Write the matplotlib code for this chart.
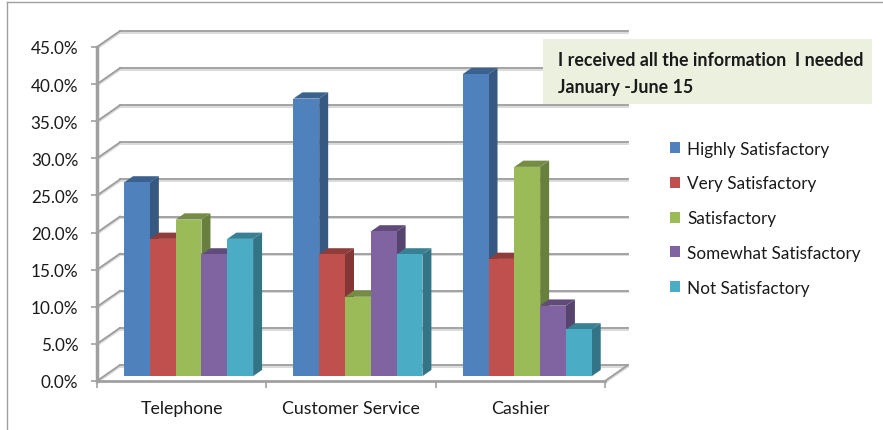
import numpy as np
import matplotlib
matplotlib.use('Agg')
import matplotlib.pyplot as plt
from matplotlib.patches import Polygon, Patch, Rectangle
from matplotlib.lines import Line2D
import matplotlib.patheffects as pe
import matplotlib.colors as mcolors

plt.rcParams['font.family'] = ['Lato', 'DejaVu Sans']

categories = ['Telephone', 'Customer Service', 'Cashier']
series_names = ['Highly Satisfactory', 'Very Satisfactory', 'Satisfactory',
                'Somewhat Satisfactory', 'Not Satisfactory']
highly = [26.1, 37.4, 40.7]
very = [18.5, 16.4, 15.8]
satisfactory = [21.1, 10.7, 28.2]
somewhat = [16.4, 19.5, 9.5]
not_satisfactory = [18.5, 16.4, 6.3]
y_ticks = [0, 5, 10, 15, 20, 25, 30, 35, 40, 45]
title_lines = ['I received all the information  I needed', 'January -June 15']

colors = ['#4F81BD', '#C0504D', '#9BBB59', '#8064A2', '#4BACC6']
all_series = [highly, very, satisfactory, somewhat, not_satisfactory]

W, H = 883, 431
fig = plt.figure(figsize=(W / 100, H / 100), dpi=100)

# front plane of the 3d box
ax = fig.add_axes([97 / W, (H - 382) / H, 508 / W, 334 / H])
ax.set_xlim(0, 3)
ax.set_ylim(0, 45)

# depth of the box, in data units
DX, DY = 0.136, 2.16
f0, f1 = 0.3, 0.69  # bar front / back depth fraction
bw = 0.1524

grid_c = '#9c9c9c'
shadow = [pe.SimpleLineShadow(offset=(0, -1.2), shadow_color='#d8d8d8', alpha=1), pe.Normal()]

# back wall gridlines + left wall diagonals
for v in y_ticks:
    ax.plot([DX, 3 + DX], [v + DY, v + DY], color=grid_c, lw=1.3,
            clip_on=False, path_effects=shadow, zorder=1)
    ax.plot([0, DX], [v, v + DY], color=grid_c, lw=1.3,
            clip_on=False, path_effects=shadow, zorder=1)
ax.plot([3, 3 + DX], [0, DY], color=grid_c, lw=1.3, clip_on=False,
        path_effects=shadow, zorder=1)


def darker(c, k):
    r, g, b = mcolors.to_rgb(c)
    return (r * k, g * k, b * k)


for i in range(len(categories)):
    for j, vals in enumerate(all_series):
        v = vals[i]
        x0 = i + 0.5 - 2.5 * bw + j * bw + f0 * DX
        base = f0 * DY
        top = v + f0 * DY
        ddx = (f1 - f0) * DX
        ddy = (f1 - f0) * DY
        side = Polygon([(x0 + bw, base), (x0 + bw, top), (x0 + bw + ddx, top + ddy),
                        (x0 + bw + ddx, base + ddy)], closed=True,
                       facecolor=darker(colors[j], 0.68), edgecolor='none',
                       clip_on=False, zorder=3)
        tp = Polygon([(x0, top), (x0 + bw, top), (x0 + bw + ddx, top + ddy),
                      (x0 + ddx, top + ddy)], closed=True,
                     facecolor=darker(colors[j], 0.75), edgecolor='none',
                     clip_on=False, zorder=3)
        front = Rectangle((x0, base), bw, v, facecolor=colors[j],
                          edgecolor='none', clip_on=False, zorder=3)
        ax.add_patch(side)
        ax.add_patch(tp)
        ax.add_patch(front)

# axes
for s in ['top', 'right']:
    ax.spines[s].set_visible(False)
ax.spines['left'].set_color('#a0a0a0')
ax.spines['left'].set_linewidth(2.5)
ax.spines['bottom'].set_color('#a0a0a0')
ax.spines['bottom'].set_linewidth(2)
ax.spines['left'].set_zorder(5)
ax.spines['bottom'].set_zorder(5)
ax.set_yticks(y_ticks)
ax.set_yticklabels([f'{v:.1f}%' for v in y_ticks])
ax.tick_params(axis='y', direction='out', length=4.5, width=1.2, color='#a0a0a0',
               labelsize=12.3, pad=9, labelcolor='#1a1a1a')
ax.set_xticks([0, 1, 2, 3])
ax.set_xticklabels([])
ax.set_xticks([0.5, 1.5, 2.5], minor=True)
ax.set_xticklabels(categories, minor=True)
ax.tick_params(axis='x', which='major', direction='out', length=5, width=1.2,
               color='#a0a0a0')
ax.tick_params(axis='x', which='minor', length=0, labelsize=12.8, pad=14,
               labelcolor='#1a1a1a')
ax.patch.set_visible(False)

# legend
handles = [Patch(facecolor=c, edgecolor='none') for c in colors]
fig.legend(handles, series_names, loc='upper left',
           bbox_to_anchor=(661 / W, 1 - 133 / H), frameon=False,
           fontsize=12.3, handlelength=0.6, handleheight=0.6,
           handletextpad=0.45, labelspacing=1.1, borderpad=0,
           labelcolor='#1a1a1a')

# title box
fig.patches.append(Rectangle((543 / W, 1 - 105 / H), 329 / W, 65 / H,
                             transform=fig.transFigure, facecolor='#EBF1DE',
                             edgecolor='none', zorder=0))
fig.text(558 / W, 1 - 61 / H, title_lines[0], fontsize=12.8, fontweight='bold',
         va='center', ha='left', color='#1a1a1a')
fig.text(558 / W, 1 - 87 / H, title_lines[1], fontsize=12.8, fontweight='bold',
         va='center', ha='left', color='#1a1a1a')

# chart border pieces visible in the crop
fig.add_artist(Line2D([7 / W, 7 / W], [0, 1 - 3 / H], transform=fig.transFigure,
                      color='#a0a0a0', lw=1))
fig.add_artist(Line2D([7 / W, 1], [1 - 3 / H, 1 - 3 / H], transform=fig.transFigure,
                      color='#a0a0a0', lw=1))

fig.savefig('out.png', dpi=100)
